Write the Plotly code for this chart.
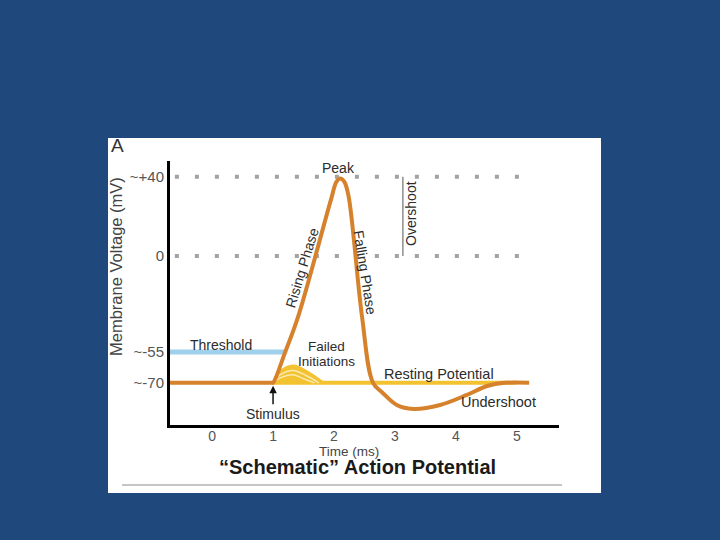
import plotly.graph_objects as go

# ---------------- data (schematic units; ticks relabelled) ----------------
ap_time = [-0.69, 0.98, 1.0, 1.2, 1.41, 1.95, 2.04, 2.1, 2.17, 2.24, 2.46, 2.64,
           2.80, 3.03, 3.30, 3.74, 4.18, 4.51, 4.80, 5.2]
ap_volt = [-64.1, -64.1, -64.1, -48.5, -30.8, 28.5, 37.5, 39.2, 37.5, 30.0, -30.8, -64.1,
           -69.2, -75.3, -77.3, -75.3, -70.2, -65.7, -64.1, -64.1]

threshold_time = [-0.69, 1.2]
threshold_volt = [-48.5, -48.5]

resting_time = [1.0, 5.0]
resting_volt = [-64.1, -64.1]

failed_time = [
    [1.0, 1.12, 1.33, 1.58, 1.82],
    [1.0, 1.12, 1.33, 1.55, 1.75],
    [1.0, 1.12, 1.33, 1.5, 1.68],
]
failed_volt = [
    [-64.1, -58.5, -55.6, -59.0, -64.1],
    [-64.1, -60.0, -57.8, -60.5, -64.1],
    [-64.1, -61.6, -60.0, -62.0, -64.1],
]

ref_levels = [40, 0]
ref_time = [-0.61, 5.21]
overshoot_time = 3.13

x_ticks = [0, 1, 2, 3, 4, 5]
y_tickvals = [40, 0, -48.5, -64.1]
y_ticktext = ["~+40", "0", "~-55", "~-70"]

# ---------------- styling ----------------
W, H = 720, 540
ML, MR, MT, MB = 170, 161, 161, 115
PW, PH = W - ML - MR, H - MT - MB
FONT = "Liberation Sans"
ORANGE = "#d6822c"
YELLOW = "#f2c230"
PALE = "#fbeab0"
BLUE = "#9fd1ec"
GRAY = "#a3a3a3"
TXT = "#2b2b2b"


def px(x):
    return (x - ML) / PW


def py(y):
    return (H - MB - y) / PH


fig = go.Figure()

for lv in ref_levels:
    fig.add_trace(go.Scatter(x=ref_time, y=[lv, lv], mode="lines",
                             line=dict(color=GRAY, width=4, dash="4px,16px"),
                             hoverinfo="skip", showlegend=False))

fig.add_trace(go.Scatter(x=threshold_time, y=threshold_volt, mode="lines",
                         line=dict(color=BLUE, width=5), showlegend=False))
fig.add_trace(go.Scatter(x=resting_time, y=resting_volt, mode="lines",
                         line=dict(color=YELLOW, width=4), showlegend=False))
for i, (ft, fv) in enumerate(zip(failed_time, failed_volt)):
    if i == 0:
        fig.add_trace(go.Scatter(x=ft, y=fv, mode="lines", fill="toself", fillcolor=YELLOW,
                                 line=dict(color=YELLOW, width=3, shape="spline", smoothing=1),
                                 showlegend=False))
    else:
        fig.add_trace(go.Scatter(x=ft, y=fv, mode="lines",
                                 line=dict(color=PALE, width=1.5, shape="spline", smoothing=1),
                                 showlegend=False))
fig.add_trace(go.Scatter(x=ap_time, y=ap_volt, mode="lines",
                         line=dict(color=ORANGE, width=4, shape="spline", smoothing=1),
                         showlegend=False))

# overshoot bracket
fig.add_shape(type="line", xref="x", yref="y", x0=overshoot_time, x1=overshoot_time,
              y0=ref_levels[1], y1=ref_levels[0], line=dict(color="#555555", width=1))

# white slide picture panel
fig.add_shape(type="rect", xref="paper", yref="paper", layer="below",
              x0=px(108), x1=px(601), y0=py(493), y1=py(138),
              fillcolor="white", line=dict(width=0))
# rule below title
fig.add_shape(type="line", xref="paper", yref="paper",
              x0=px(122), x1=px(562), y0=py(485), y1=py(485),
              line=dict(color="#8a8a8a", width=1))


def label(text, x, y, size=14, angle=0, color=TXT, bold=False, xanchor="center"):
    fig.add_annotation(text=f"<b>{text}</b>" if bold else text,
                       xref="paper", yref="paper", x=px(x), y=py(y),
                       xanchor=xanchor, yanchor="middle", showarrow=False,
                       textangle=angle, font=dict(family=FONT, size=size, color=color))


label("A", 117, 146, size=19, color="#333333")
label("Membrane Voltage (mV)", 116, 267, size=16.5, angle=-90, color="#444444")
label("Peak", 338, 168)
label("Rising Phase", 302, 268, angle=-73)
label("Falling Phase", 365, 272, angle=81)
label("Overshoot", 411, 214, angle=-90)
label("Threshold", 221, 345)
label("Failed", 326, 346, size=13.5)
label("Initiations", 326, 361, size=13.5)
label("Resting Potential", 439, 374, size=14.5)
label("Undershoot", 498, 402, size=14.5)
label("Time (ms)", 349, 451, size=13.5, color="#444444")
label("“Schematic” Action Potential", 357, 467, size=20, bold=True, color="#1a1a1a")

fig.add_annotation(text="Stimulus", x=1.0, y=-64.1, xref="x", yref="y",
                   showarrow=True, ax=0, ay=31, arrowhead=2, arrowsize=1,
                   arrowwidth=1.5, arrowcolor="#111111", standoff=3,
                   font=dict(family=FONT, size=14, color=TXT))

fig.update_xaxes(range=[-0.69, 5.69], showline=True, linecolor="black", linewidth=3,
                 showgrid=False, zeroline=False, ticks="", tickvals=x_ticks,
                 ticklabelstandoff=-4,
                 tickfont=dict(family=FONT, size=14, color="#555555"))
fig.update_yaxes(range=[-85.4, 48], showline=True, linecolor="black", linewidth=3,
                 showgrid=False, zeroline=False, ticks="", tickvals=y_tickvals,
                 ticktext=y_ticktext, tickfont=dict(family=FONT, size=15, color="#555555"))

fig.update_layout(width=W, height=H, paper_bgcolor="#1f497d", plot_bgcolor="rgba(0,0,0,0)",
                  margin=dict(l=ML, r=MR, t=MT, b=MB), showlegend=False)

fig.write_html("out.html", config={"displayModeBar": False},
               post_script="document.body.style.margin='0';")
